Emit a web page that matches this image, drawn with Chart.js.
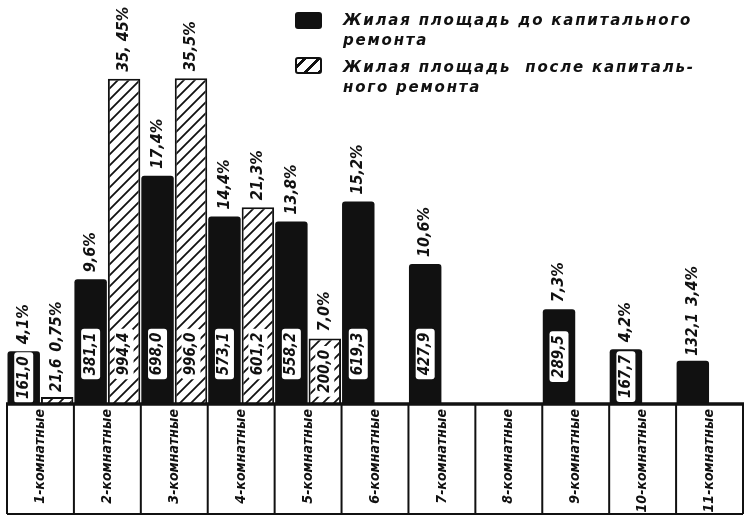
<!doctype html>
<html>

<head>
    <meta charset="utf-8">
    <title>Жилая площадь по типам квартир</title>
    <script src="https://cdn.jsdelivr.net/npm/chart.js"></script>
    <style>
        body { margin: 0; background: #fff; }
        #wrap { position: relative; width: 747px; height: 519px; }
        .legend { position: absolute; left: 295px; font-family: 'DejaVu Sans', sans-serif; font-style: oblique; font-weight: bold; font-size: 15px; letter-spacing: 1.8px; line-height: 20px; color: #111; }
        .legend .box { position: absolute; left: 0; width: 27px; height: 17px; box-sizing: border-box; border-radius: 3px; }
        .legend .txt { position: absolute; left: 48px; white-space: nowrap; }
    </style>
</head>

<body>
    <div id="wrap">
        <canvas id="area"></canvas>
        <div class="legend" style="top: 10px;">
            <div class="box" style="top: 2px; background: #111;"></div>
            <div class="txt" style="top: 0;">Жилая площадь до капитального<br>ремонта</div>
        </div>
        <div class="legend" style="top: 57px;">
            <div class="box" style="top: 0; border: 2.5px solid #111; background: repeating-linear-gradient(135deg, #fff 0 4px, #111 4px 6.5px, #fff 6.5px 10px);"></div>
            <div class="txt" style="top: 0;">Жилая площадь &nbsp;после капиталь-<br>ного ремонта</div>
        </div>
    </div>

    <script>
        var categories = ['1-комнатные', '2-комнатные', '3-комнатные', '4-комнатные', '5-комнатные', '6-комнатные',
            '7-комнатные', '8-комнатные', '9-комнатные', '10-комнатные', '11-комнатные'];

        // жилая площадь, м²
        var areaBefore = [161.0, 381.1, 698.0, 573.1, 558.2, 619.3, 427.9, null, 289.5, 167.7, 132.1];
        var areaAfter = [21.6, 994.4, 996.0, 601.2, 200.0, null, null, null, null, null, null];

        // доля от общей площади
        var shareBefore = ['4,1%', '9,6%', '17,4%', '14,4%', '13,8%', '15,2%', '10,6%', null, '7,3%', '4,2%', '3,4%'];
        var shareAfter = ['0,75%', '35, 45%', '35,5%', '21,3%', '7,0%', null, null, null, null, null, null];

        var ink = '#111';
        var labelFont = "bold oblique 15px 'DejaVu Sans Condensed', 'Liberation Sans Narrow', sans-serif";
        var shareFont = "bold oblique 16px 'DejaVu Sans Condensed', 'Liberation Sans Narrow', sans-serif";

        function hatch() {
            var c = document.createElement('canvas');
            c.width = 11; c.height = 11;
            var g = c.getContext('2d');
            g.fillStyle = '#fff';
            g.fillRect(0, 0, 11, 11);
            g.strokeStyle = ink;
            g.lineWidth = 1.8;
            g.beginPath();
            g.moveTo(-1, 12); g.lineTo(12, -1);
            g.moveTo(-3, 3); g.lineTo(3, -3);
            g.moveTo(8, 14); g.lineTo(14, 8);
            g.stroke();
            return g.createPattern(c, 'repeat');
        }

        function fmt(v) {
            return v.toFixed(1).replace('.', ',');
        }

        // vertical text reading upward, starting at (x, y)
        function upText(ctx, text, x, y, font) {
            ctx.save();
            ctx.font = font;
            ctx.translate(x, y);
            ctx.rotate(-Math.PI / 2);
            ctx.textAlign = 'left';
            ctx.textBaseline = 'middle';
            ctx.fillStyle = ink;
            ctx.fillText(text, 0, 0);
            var w = ctx.measureText(text).width;
            ctx.restore();
            return w;
        }

        function roundBox(ctx, x, y, w, h, r) {
            ctx.beginPath();
            ctx.moveTo(x + r, y);
            ctx.arcTo(x + w, y, x + w, y + h, r);
            ctx.arcTo(x + w, y + h, x, y + h, r);
            ctx.arcTo(x, y + h, x, y, r);
            ctx.arcTo(x, y, x + w, y, r);
            ctx.closePath();
        }

        var barLabels = {
            id: 'barLabels',
            afterDatasetsDraw(chart) {
                var ctx = chart.ctx;
                var shares = [shareBefore, shareAfter];
                chart.data.datasets.forEach(function (ds, di) {
                    var meta = chart.getDatasetMeta(di);
                    meta.data.forEach(function (bar, i) {
                        var v = ds.data[i];
                        if (v == null) return;
                        var text = fmt(v);
                        var h = bar.base - bar.y;
                        ctx.font = labelFont;
                        var tw = ctx.measureText(text).width;
                        var top = bar.y;
                        if (h < 48) {
                            // too short: value goes above the bar
                            var w = upText(ctx, text, bar.x, top - 5, labelFont);
                            top = top - 5 - w;
                        } else {
                            var cy = h > 110 ? bar.base - 50 : bar.base - h / 2;
                            var bw = 19, bh = tw + 8;
                            ctx.save();
                            roundBox(ctx, bar.x - bw / 2, cy - bh / 2, bw, bh, 3);
                            ctx.fillStyle = '#fff';
                            ctx.fill();
                            ctx.restore();
                            upText(ctx, text, bar.x, cy + tw / 2, labelFont);
                        }
                        var s = shares[di][i];
                        if (s) upText(ctx, s, bar.x, top - 7, shareFont);
                    });
                });
            }
        };

        // table of room-type cells under the bars
        var cells = {
            id: 'cells',
            afterDraw(chart) {
                var ctx = chart.ctx;
                var x = chart.scales.x;
                var top = chart.chartArea.bottom;
                var bottom = x.bottom - 1;
                var step = x.getPixelForValue(1) - x.getPixelForValue(0);
                ctx.save();
                ctx.strokeStyle = ink;
                ctx.lineWidth = 2;
                ctx.beginPath();
                for (var i = 0; i <= categories.length; i++) {
                    var px = x.getPixelForValue(i) - step / 2;
                    ctx.moveTo(px, top);
                    ctx.lineTo(px, bottom);
                }
                ctx.moveTo(x.left, bottom);
                ctx.lineTo(x.right, bottom);
                ctx.stroke();
                ctx.lineWidth = 3.5;
                ctx.beginPath();
                ctx.moveTo(x.left - 1, top);
                ctx.lineTo(x.right + 1, top);
                ctx.stroke();
                ctx.restore();
            }
        };

        var chart = new Chart(document.getElementById('area').getContext('2d'), {
            type: 'bar',
            data: {
                labels: categories,
                datasets: [{
                    label: 'Жилая площадь до капитального ремонта',
                    data: areaBefore,
                    backgroundColor: ink,
                    borderRadius: 3,
                    borderSkipped: 'bottom'
                }, {
                    label: 'Жилая площадь после капитального ремонта',
                    data: areaAfter,
                    backgroundColor: hatch(),
                    borderColor: ink,
                    borderWidth: 2,
                    borderSkipped: 'bottom'
                }]
            },
            options: {
                responsive: true,
                maintainAspectRatio: false,
                animation: false,
                layout: {
                    padding: { left: 7, right: 4, top: 0, bottom: 4 }
                },
                datasets: {
                    bar: {
                        categoryPercentage: 1,
                        barPercentage: 0.97
                    }
                },
                plugins: {
                    legend: { display: false },
                    tooltip: { enabled: false }
                },
                scales: {
                    x: {
                        grid: { display: false },
                        border: { display: false },
                        ticks: {
                            autoSkip: false,
                            minRotation: 90,
                            maxRotation: 90,
                            padding: -3,
                            color: ink,
                            font: {
                                family: "'DejaVu Sans Condensed', 'Liberation Sans Narrow', sans-serif",
                                size: 14,
                                weight: 'bold',
                                style: 'oblique'
                            }
                        },
                        afterFit(scale) {
                            scale.height = 111;
                        }
                    },
                    y: {
                        display: false,
                        min: 0,
                        max: 1235
                    }
                }
            },
            plugins: [barLabels, cells]
        });
    </script>
</body>

</html>
